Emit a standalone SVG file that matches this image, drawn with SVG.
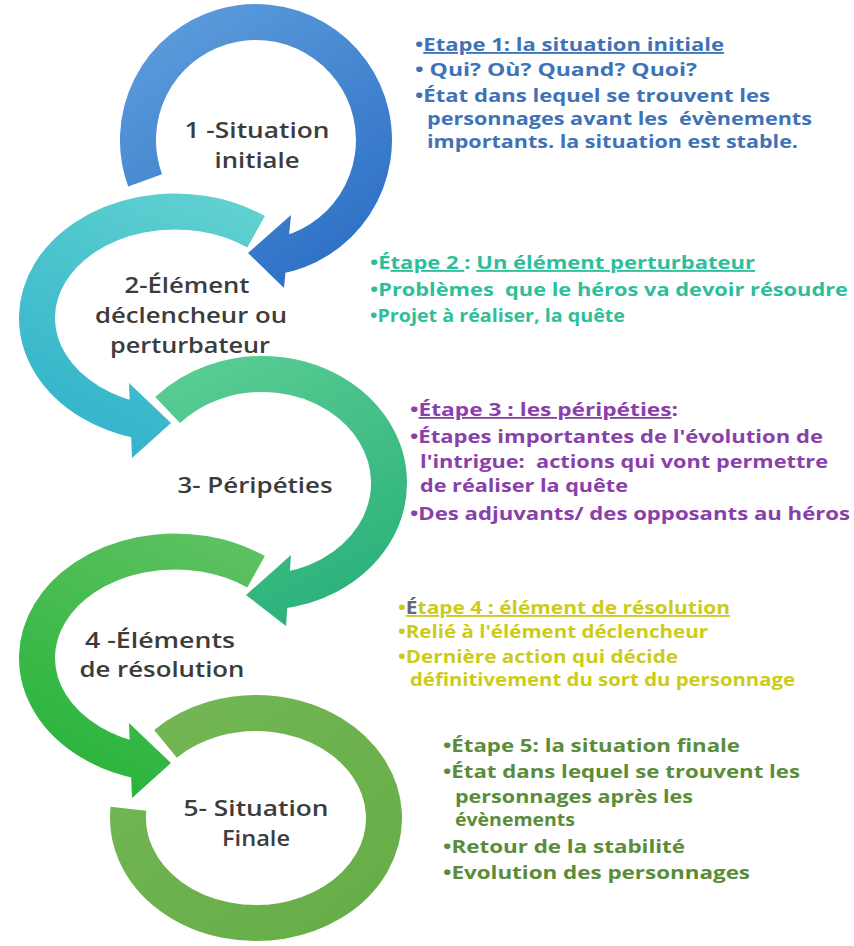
<svg xmlns="http://www.w3.org/2000/svg" width="854" height="946" viewBox="0 0 854 946">
<defs>
<linearGradient id="g1" gradientUnits="userSpaceOnUse" x1="130" y1="20" x2="300" y2="280"><stop offset="0" stop-color="#5e9edc"/><stop offset="1" stop-color="#2f71c6"/></linearGradient>
<linearGradient id="g2" gradientUnits="userSpaceOnUse" x1="260" y1="200" x2="140" y2="450"><stop offset="0" stop-color="#62d2d0"/><stop offset="1" stop-color="#35b5cb"/></linearGradient>
<linearGradient id="g3" gradientUnits="userSpaceOnUse" x1="170" y1="380" x2="290" y2="620"><stop offset="0" stop-color="#58cc93"/><stop offset="1" stop-color="#2db27b"/></linearGradient>
<linearGradient id="g4" gradientUnits="userSpaceOnUse" x1="250" y1="560" x2="140" y2="790"><stop offset="0" stop-color="#5cc160"/><stop offset="1" stop-color="#2cb53e"/></linearGradient>
<linearGradient id="g5" gradientUnits="userSpaceOnUse" x1="160" y1="700" x2="350" y2="940"><stop offset="0" stop-color="#74b655"/><stop offset="1" stop-color="#66ad47"/></linearGradient>
</defs>
<style>
.arc{fill:none;stroke-width:36;stroke-linecap:butt}
.lbl{font-family:"Open Sans",Lato,"Liberation Sans",sans-serif;font-size:22px;font-weight:600;fill:#3c3c3c;text-anchor:middle}
.note{font-family:"Open Sans",Lato,"Liberation Sans",sans-serif;font-size:18.5px;font-weight:bold}
.u{text-decoration:underline}
.b1{fill:#3f73b6}.b2{fill:#2ebf9a}.b3{fill:#8a3fab}.b4{fill:#cccc18}.b5{fill:#5a8c3a}
</style>
<rect width="854" height="946" fill="#ffffff"/>
<g id="arcs">
<g id="arc1">
<path class="arc" stroke="url(#g1)" d="M145.1,180.4 A118,118 0 1 1 276.5,256.2"/>
<polygon fill="url(#g1)" points="291,215 284,288 248,253"/>
</g>
<g id="arc2">
<path class="arc" stroke="url(#g2)" d="M256.1,231.8 A138,106.5 0 1 0 141.6,421.3"/>
<polygon fill="url(#g2)" points="129,383 132,458 171,423"/>
</g>
<g id="arc3">
<path class="arc" stroke="url(#g3)" d="M167.6,410.1 A127,109 0 1 1 275.3,591.4"/>
<polygon fill="url(#g3)" points="291,555 286,626 246,595"/>
</g>
<g id="arc4">
<path class="arc" stroke="url(#g4)" d="M256.1,571.8 A138,106.5 0 1 0 141.6,761.3"/>
<polygon fill="url(#g4)" points="129,723 132,798 171,763"/>
</g>
<g id="arc5">
<path class="arc" stroke="url(#g5)" d="M165.5,743.8 A128,105 0 1 1 128.5,808.8"/>
</g>
</g>
<g id="labels">
<g id="label1"><text class="lbl" x="257" y="138" textLength="145" lengthAdjust="spacingAndGlyphs">1 -Situation</text><text class="lbl" x="257" y="168" textLength="85" lengthAdjust="spacingAndGlyphs">initiale</text></g>
<g id="label2"><text class="lbl" x="187" y="293" textLength="125" lengthAdjust="spacingAndGlyphs">2-Élément</text><text class="lbl" x="191" y="323" textLength="192" lengthAdjust="spacingAndGlyphs">déclencheur ou</text><text class="lbl" x="190" y="353" textLength="160" lengthAdjust="spacingAndGlyphs">perturbateur</text></g>
<g id="label3"><text class="lbl" x="255" y="493" textLength="155" lengthAdjust="spacingAndGlyphs">3- Péripéties</text></g>
<g id="label4"><text class="lbl" x="160" y="648" textLength="150" lengthAdjust="spacingAndGlyphs">4 -Éléments</text><text class="lbl" x="162" y="677" textLength="165" lengthAdjust="spacingAndGlyphs">de résolution</text></g>
<g id="label5"><text class="lbl" x="256" y="816" textLength="145" lengthAdjust="spacingAndGlyphs">5- Situation</text><text class="lbl" x="256" y="846" textLength="68" lengthAdjust="spacingAndGlyphs">Finale</text></g>
</g>
<g id="notes">
<g id="note1" class="note b1">
<text x="415" y="51" textLength="309" lengthAdjust="spacingAndGlyphs">•<tspan class="u">Etape 1: la situation initiale</tspan></text>
<text x="415" y="76" textLength="282" lengthAdjust="spacingAndGlyphs">• Qui? Où? Quand? Quoi?</text>
<text x="415" y="102" textLength="355" lengthAdjust="spacingAndGlyphs">•État dans lequel se trouvent les</text>
<text x="427" y="125" textLength="385" lengthAdjust="spacingAndGlyphs" xml:space="preserve">personnages avant les  évènements</text>
<text x="427" y="148" textLength="371" lengthAdjust="spacingAndGlyphs">importants. la situation est stable.</text>
</g>
<g id="note2" class="note b2">
<text x="370" y="269" textLength="385" lengthAdjust="spacingAndGlyphs">•É<tspan class="u">tape 2 </tspan>: <tspan class="u">Un élément perturbateur</tspan></text>
<text x="370" y="296" textLength="478" lengthAdjust="spacingAndGlyphs" xml:space="preserve">•Problèmes  que le héros va devoir résoudre</text>
<text x="370" y="322" textLength="255" lengthAdjust="spacingAndGlyphs">•Projet à réaliser, la quête</text>
</g>
<g id="note3" class="note b3">
<text x="410" y="416" textLength="268" lengthAdjust="spacingAndGlyphs">•<tspan class="u">Étape 3 : les péripéties</tspan>:</text>
<text x="410" y="443" textLength="413" lengthAdjust="spacingAndGlyphs">•Étapes importantes de l'évolution de</text>
<text x="420" y="468" textLength="408" lengthAdjust="spacingAndGlyphs" xml:space="preserve">l'intrigue:  actions qui vont permettre</text>
<text x="420" y="492" textLength="208" lengthAdjust="spacingAndGlyphs">de réaliser la quête</text>
<text x="410" y="520" textLength="440" lengthAdjust="spacingAndGlyphs">•Des adjuvants/ des opposants au héros</text>
</g>
<g id="note4" class="note b4">
<text x="398" y="614" textLength="332" lengthAdjust="spacingAndGlyphs">•<tspan class="u"><tspan fill="#66667a">É</tspan>tape 4 : élément de résolution</tspan></text>
<text x="398" y="638" textLength="310" lengthAdjust="spacingAndGlyphs">•Relié à l'élément déclencheur</text>
<text x="398" y="663" textLength="280" lengthAdjust="spacingAndGlyphs">•Dernière action qui décide</text>
<text x="410" y="686" textLength="385" lengthAdjust="spacingAndGlyphs">définitivement du sort du personnage</text>
</g>
<g id="note5" class="note b5">
<text x="443" y="752" textLength="297" lengthAdjust="spacingAndGlyphs">•Étape 5: la situation finale</text>
<text x="443" y="778" textLength="357" lengthAdjust="spacingAndGlyphs">•État dans lequel se trouvent les</text>
<text x="455" y="803" textLength="238" lengthAdjust="spacingAndGlyphs">personnages après les</text>
<text x="455" y="826" textLength="120" lengthAdjust="spacingAndGlyphs">évènements</text>
<text x="443" y="853" textLength="242" lengthAdjust="spacingAndGlyphs">•Retour de la stabilité</text>
<text x="443" y="879" textLength="307" lengthAdjust="spacingAndGlyphs">•Evolution des personnages</text>
</g>
</g>
</svg>
